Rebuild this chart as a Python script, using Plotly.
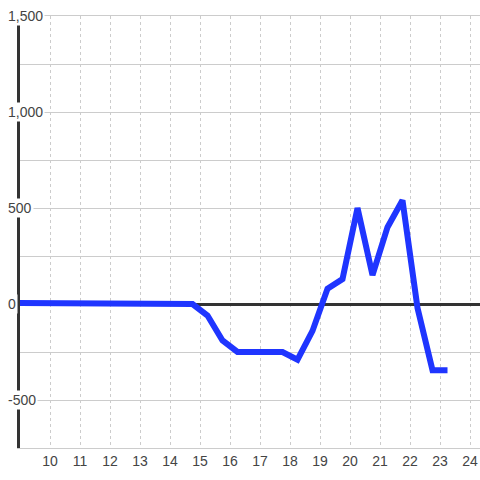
import plotly.graph_objects as go

x_vals = [8.75, 9.25, 9.75, 10.25, 10.75, 11.25, 11.75, 12.25, 12.75, 13.25, 13.75, 14.25, 14.75,
          15.25, 15.75, 16.25, 16.75, 17.25, 17.75, 18.25, 18.75, 19.25, 19.75, 20.25,
          20.75, 21.25, 21.75, 22.25, 22.75, 23.25]
y_vals = [5, 5, 5, 5, 5, 5, 0, 0, 0, 0, 0, 0, 0,
          -60, -190, -250, -250, -250, -250, -290, -140, 80, 130, 500,
          150, 400, 540, -20, -345, -345]

x_ticks = list(range(10, 25))
y_grid = [-750, -500, -250, 0, 250, 500, 750, 1000, 1250, 1500]
y_label_vals = [-500, 0, 500, 1000, 1500]
y_label_text = ["-500", "0", "500", "1,000", "1,500"]

FONT = "Liberation Sans, Arial, sans-serif"

fig = go.Figure()
fig.add_trace(go.Scatter(x=x_vals, y=y_vals, mode="lines",
                         line=dict(color="#1f35ff", width=6), hoverinfo="skip"))

for v, t in zip(y_label_vals, y_label_text):
    fig.add_annotation(x=0, xref="paper", y=v, yref="y", text=t, showarrow=False,
                       xanchor="left", yanchor="middle", xshift=-14,
                       bgcolor="#ffffff", borderpad=1,
                       font=dict(family=FONT, size=14, color="#444444"))

fig.update_layout(
    width=480, height=480,
    margin=dict(l=20, r=0, t=16, b=32, autoexpand=False),
    paper_bgcolor="#ffffff", plot_bgcolor="#ffffff",
    showlegend=False, hovermode=False,
    font=dict(family=FONT, size=14, color="#444444"),
    xaxis=dict(range=[9, 24.3333], tickvals=x_ticks, ticktext=[str(t) for t in x_ticks],
               showgrid=True, gridcolor="#cccccc", gridwidth=1, griddash="3px,3px",
               zeroline=False, showline=True, linecolor="#cccccc", linewidth=1, mirror=True,
               ticks="", automargin=False, fixedrange=True, layer="below traces"),
    yaxis=dict(range=[-750, 1500], tickvals=y_grid, showticklabels=False,
               showgrid=True, gridcolor="#cccccc", gridwidth=1,
               zeroline=True, zerolinecolor="#333333", zerolinewidth=3,
               showline=True, linecolor="#333333", linewidth=3,
               ticks="", automargin=False, fixedrange=True, layer="below traces"),
)

fig.write_html("out.html", config={"displayModeBar": False, "staticPlot": True},
               post_script="document.body.style.margin='0';document.body.style.overflow='hidden';")
